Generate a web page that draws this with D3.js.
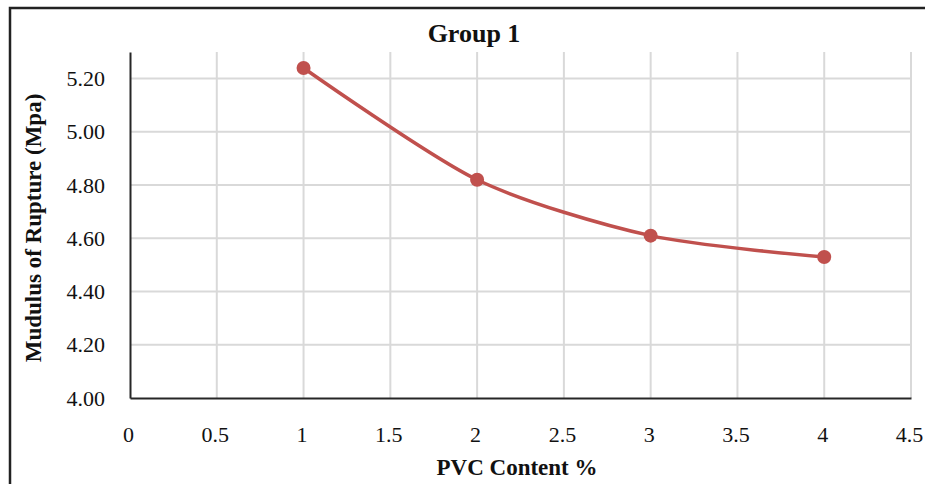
<!DOCTYPE html>
<html>
<head>
<meta charset="utf-8">
<script src="https://cdn.jsdelivr.net/npm/d3@7"></script>
<style>
  body { margin: 0; background: #fff; }
  svg { display: block; font-family: "Liberation Serif", "Times New Roman", serif; }
</style>
</head>
<body>
<svg id="chart" width="925" height="484"></svg>
<script>
// data
var pvcContent = [1, 2, 3, 4];
var rupture = [5.24, 4.82, 4.61, 4.53];
var xTicks = [0, 0.5, 1, 1.5, 2, 2.5, 3, 3.5, 4, 4.5];
var yTicks = [4.0, 4.2, 4.4, 4.6, 4.8, 5.0, 5.2];

var svg = d3.select("#chart");
var W = 925, H = 484;

// outer frame, cut off right/bottom like the screenshot
svg.append("rect")
  .attr("x", 10).attr("y", 8)
  .attr("width", W + 20).attr("height", H + 20)
  .attr("fill", "#fff").attr("stroke", "#222").attr("stroke-width", 2.5);

var pLeft = 130, pTop = 52, pRight = 911, pBottom = 398;

var x = d3.scaleLinear().domain([0, 4.5]).range([pLeft, pRight]);
var y = d3.scaleLinear().domain([4.0, 5.3]).range([pBottom, pTop]);

var g = svg.append("g");

// gridlines
g.selectAll(".vgrid").data(xTicks.slice(1)).enter().append("line")
  .attr("class", "vgrid")
  .attr("x1", function(d){ return x(d); }).attr("x2", function(d){ return x(d); })
  .attr("y1", pTop).attr("y2", pBottom)
  .attr("stroke", "#d9d9d9").attr("stroke-width", 2);

g.selectAll(".hgrid").data(yTicks.slice(1)).enter().append("line")
  .attr("class", "hgrid")
  .attr("x1", pLeft).attr("x2", pRight)
  .attr("y1", function(d){ return y(d); }).attr("y2", function(d){ return y(d); })
  .attr("stroke", "#d9d9d9").attr("stroke-width", 2);

// axes
var xAxis = g.append("g")
  .attr("transform", "translate(0," + pBottom + ")")
  .call(d3.axisBottom(x).tickValues(xTicks).tickSize(0).tickPadding(28)
    .tickFormat(function(d){ return String(d); }));
var yAxis = g.append("g")
  .attr("transform", "translate(" + pLeft + ",0)")
  .call(d3.axisLeft(y).tickValues(yTicks).tickSize(0).tickPadding(25)
    .tickFormat(d3.format(".2f")));

[xAxis, yAxis].forEach(function(a){
  a.select(".domain").attr("stroke", "#262626").attr("stroke-width", 2);
  a.selectAll("text")
    .attr("font-family", "Liberation Serif, serif")
    .attr("font-size", 22).attr("fill", "#111");
});
xAxis.selectAll("text").attr("dx", -2);

// series
var line = d3.line()
  .x(function(d, i){ return x(pvcContent[i]); })
  .y(function(d){ return y(d); })
  .curve(d3.curveCardinal.tension(0.2));

g.append("path").datum(rupture)
  .attr("d", line)
  .attr("fill", "none").attr("stroke", "#c0504d").attr("stroke-width", 3.5);

g.selectAll(".pt").data(rupture).enter().append("circle")
  .attr("class", "pt")
  .attr("cx", function(d, i){ return x(pvcContent[i]); })
  .attr("cy", function(d){ return y(d); })
  .attr("r", 7)
  .attr("fill", "#c0504d");

// titles
svg.append("text")
  .attr("x", 474).attr("y", 42)
  .attr("text-anchor", "middle")
  .attr("font-weight", "bold").attr("font-size", 26)
  .attr("fill", "#111")
  .text("Group 1");

svg.append("text")
  .attr("x", 517).attr("y", 475)
  .attr("text-anchor", "middle")
  .attr("font-weight", "bold").attr("font-size", 23)
  .attr("fill", "#111")
  .text("PVC Content %");

svg.append("text")
  .attr("transform", "translate(41,228) rotate(-90)")
  .attr("text-anchor", "middle")
  .attr("font-weight", "bold").attr("font-size", 23)
  .attr("fill", "#111")
  .text("Mudulus of Rupture (Mpa)");
</script>
</body>
</html>
